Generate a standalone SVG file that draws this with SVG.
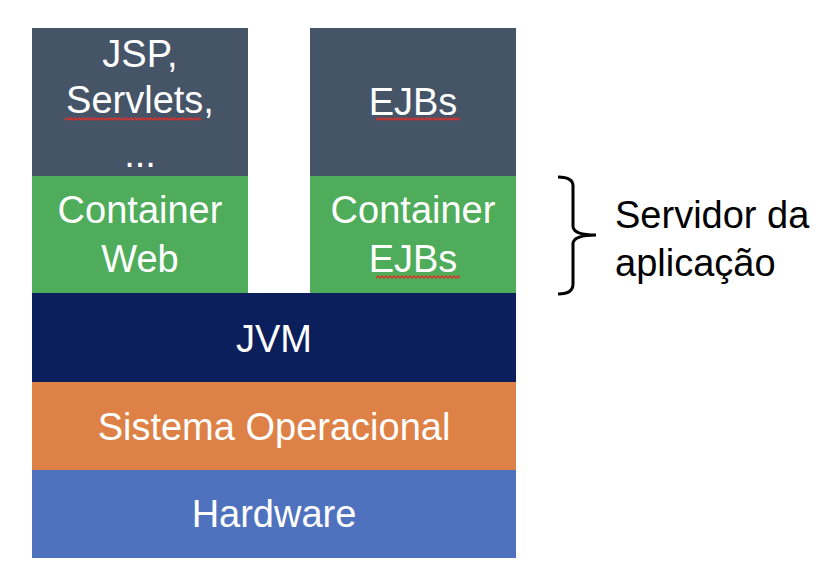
<svg xmlns="http://www.w3.org/2000/svg" width="840" height="586" viewBox="0 0 840 586">
<style>
.t{font-family:"Liberation Sans",Arial,sans-serif;font-size:38px;fill:#fff;text-anchor:middle}
.b{font-family:"Liberation Sans",Arial,sans-serif;font-size:38px;fill:#000}
.sq{fill:none;stroke:#e0302a;stroke-width:1.3}
</style>
<rect width="840" height="586" fill="#fff"/>
<g id="web-apps">
<rect x="32" y="28" width="216" height="148" fill="#465468"/>
<text class="t" x="140" y="67">JSP,</text>
<text class="t" x="140" y="113">Servlets,</text>
<text class="t" x="140" y="167">...</text>
<path class="sq" d="M65 120 l2 -2 l2 2 l2 -2 l2 2 l2 -2 l2 2 l2 -2 l2 2 l2 -2 l2 2 l2 -2 l2 2 l2 -2 l2 2 l2 -2 l2 2 l2 -2 l2 2 l2 -2 l2 2 l2 -2 l2 2 l2 -2 l2 2 l2 -2 l2 2 l2 -2 l2 2 l2 -2 l2 2 l2 -2 l2 2 l2 -2 l2 2 l2 -2 l2 2 l2 -2 l2 2 l2 -2 l2 2 l2 -2 l2 2 l2 -2 l2 2 l2 -2 l2 2 l2 -2 l2 2 l2 -2 l2 2 l2 -2 l2 2 l2 -2 l2 2 l2 -2 l2 2 l2 -2 l2 2 l2 -2 l2 2 l2 -2 l2 2 l2 -2 l2 2 l2 -2 l2 2 l2 -2 l2 2"/>
</g>
<g id="ejb-apps">
<rect x="310" y="28" width="206" height="148" fill="#465468"/>
<text class="t" x="413" y="115">EJBs</text>
<path class="sq" d="M376 120 l2 -2 l2 2 l2 -2 l2 2 l2 -2 l2 2 l2 -2 l2 2 l2 -2 l2 2 l2 -2 l2 2 l2 -2 l2 2 l2 -2 l2 2 l2 -2 l2 2 l2 -2 l2 2 l2 -2 l2 2 l2 -2 l2 2 l2 -2 l2 2 l2 -2 l2 2 l2 -2 l2 2 l2 -2 l2 2 l2 -2 l2 2 l2 -2 l2 2 l2 -2 l2 2 l2 -2 l2 2 l2 -2 l2 2"/>
</g>
<g id="container-web">
<rect x="32" y="176" width="216" height="117" fill="#4EAC5B"/>
<text class="t" x="140" y="223">Container</text>
<text class="t" x="140" y="272">Web</text>
</g>
<g id="container-ejbs">
<rect x="310" y="176" width="206" height="117" fill="#4EAC5B"/>
<text class="t" x="413" y="223">Container</text>
<text class="t" x="413" y="272">EJBs</text>
<path class="sq" d="M376 278 l2 -2 l2 2 l2 -2 l2 2 l2 -2 l2 2 l2 -2 l2 2 l2 -2 l2 2 l2 -2 l2 2 l2 -2 l2 2 l2 -2 l2 2 l2 -2 l2 2 l2 -2 l2 2 l2 -2 l2 2 l2 -2 l2 2 l2 -2 l2 2 l2 -2 l2 2 l2 -2 l2 2 l2 -2 l2 2 l2 -2 l2 2 l2 -2 l2 2 l2 -2 l2 2 l2 -2 l2 2 l2 -2 l2 2"/>
</g>
<g id="jvm">
<rect x="32" y="293" width="484" height="89" fill="#0A1F5B"/>
<text class="t" x="274" y="352">JVM</text>
</g>
<g id="so">
<rect x="32" y="382" width="484" height="88" fill="#DE8146"/>
<text class="t" x="274" y="440">Sistema Operacional</text>
</g>
<g id="hardware">
<rect x="32" y="470" width="484" height="88" fill="#4F72BE"/>
<text class="t" x="274" y="527">Hardware</text>
</g>
<g id="servidor">
<path d="M558 177 Q573 177 573 186 L573 226 Q573 235 596 235 Q573 235 573 244 L573 284 Q573 294 558 294" fill="none" stroke="#000" stroke-width="3"/>
<text class="b" x="615" y="228">Servidor da</text>
<text class="b" x="615" y="276">aplicação</text>
</g>
</svg>
